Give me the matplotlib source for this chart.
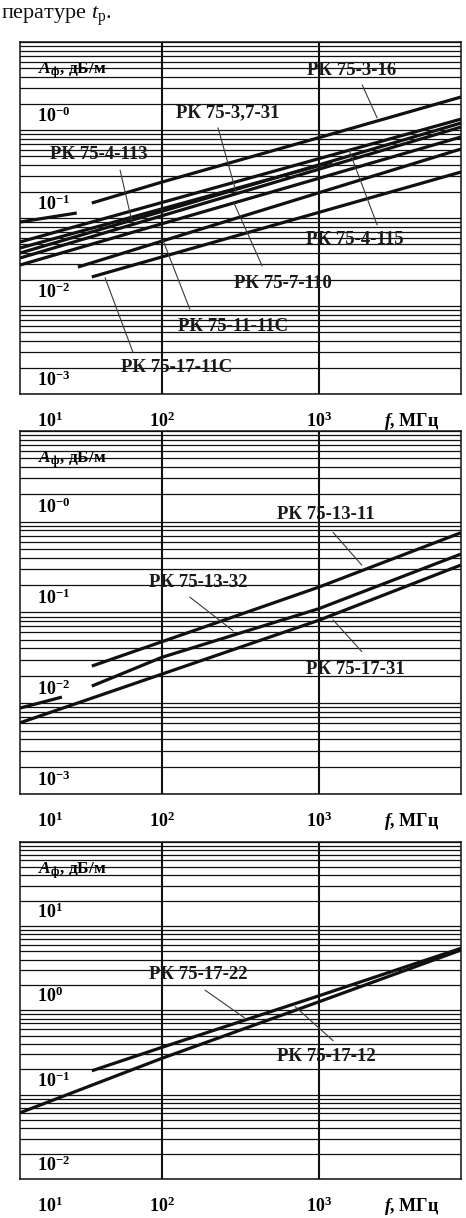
import numpy as np
import matplotlib.pyplot as plt
from matplotlib.ticker import LogLocator, NullFormatter

plt.rcParams['font.family'] = ['Liberation Serif', 'DejaVu Serif']
plt.rcParams['mathtext.fontset'] = 'custom'
plt.rcParams['mathtext.rm'] = 'Liberation Serif'
plt.rcParams['mathtext.it'] = 'Liberation Serif:italic'
plt.rcParams['mathtext.bf'] = 'Liberation Serif:bold'
plt.rcParams['mathtext.bfit'] = 'Liberation Serif:italic:bold'

# ---- data: f [MHz], A [dB/m] ----
nan = np.nan

# panel 1
f_3_16 = [12.5, 28.7, nan, 35.8, 100, 1000, 8000]
a_3_16 = [0.090, 0.114, nan, 0.148, 0.256, 0.82, 2.37]
f_4_115 = [12.5, 100, 1000, 8000]
a_4_115 = [0.0534, 0.150, 0.473, 1.33]
f_3_7_31 = [12.5, 100, 1000, 1210]
a_3_7_31 = [0.0456, 0.127, 0.394, 0.433]
f_4_113 = [12.5, 100, 1000, 8000]
a_4_113 = [0.040, 0.119, 0.402, 1.20]
f_extra = [12.5, 100, 1000, 8000]
a_extra = [0.0351, 0.106, 0.359, 1.08]
f_7_110 = [12.5, 100, 1000, 8000]
a_7_110 = [0.0292, 0.086, 0.283, 0.833]
f_11_11c = [29.2, 100, 1000, 8000]
a_11_11c = [0.0277, 0.0546, 0.194, 0.608]
f_17_11c = [35.8, 100, 1000, 8000]
a_17_11c = [0.0214, 0.0361, 0.116, 0.333]

# panel 2
f_13_11 = [35.8, 100, 1000, 8000]
a_13_11 = [0.0256, 0.0475, 0.19, 0.753]
f_13_32 = [12.5, 23.1, nan, 35.8, 100, 1000, 8000]
a_13_32 = [0.00883, 0.01167, nan, 0.01542, 0.032, 0.11, 0.4385]
f_17_31 = [12.5, 100, 1000, 8000]
a_17_31 = [0.00608, 0.0209, 0.082, 0.332]

# panel 3
f_17_22 = [35.8, 100, 1000, 8000]
a_17_22 = [0.192, 0.364, 1.49, 5.44]
f_17_12 = [12.5, 100, 1000, 8000]
a_17_12 = [0.061, 0.27, 1.265, 5.19]

ylab_12 = [r'$\mathbf{10^{-0}}$', r'$\mathbf{10^{-1}}$', r'$\mathbf{10^{-2}}$', r'$\mathbf{10^{-3}}$']
ylab_3 = [r'$\mathbf{10^{1}}$', r'$\mathbf{10^{0}}$', r'$\mathbf{10^{-1}}$', r'$\mathbf{10^{-2}}$']
xlab = [r'$\mathbf{10^{1}}$', r'$\mathbf{10^{2}}$', r'$\mathbf{10^{3}}$']

W, H = 466, 1218
fig = plt.figure(figsize=(W / 100, H / 100), dpi=100)


def make_panel(top, bottom, ylo, yhi):
    ax = fig.add_axes([20 / W, 1 - bottom / H, 441 / W, (bottom - top) / H])
    ax.set_xscale('log')
    ax.set_yscale('log')
    ax.set_xlim(12.5, 8000)
    ax.set_ylim(ylo, yhi)
    ax.set_xticks([100, 1000])
    ax.xaxis.set_minor_locator(LogLocator(subs=[]))
    ax.yaxis.set_major_locator(LogLocator(base=10))
    ax.yaxis.set_minor_locator(LogLocator(base=10, subs=range(2, 10)))
    ax.xaxis.set_major_formatter(NullFormatter())
    ax.xaxis.set_minor_formatter(NullFormatter())
    ax.yaxis.set_major_formatter(NullFormatter())
    ax.yaxis.set_minor_formatter(NullFormatter())
    ax.tick_params(which='both', length=0)
    ax.grid(which='both', axis='y', color='#111111', lw=0.9)
    ax.grid(which='major', axis='x', color='#111111', lw=1.5)
    for s in ax.spines.values():
        s.set_linewidth(1.1)
        s.set_color('#111111')
    ax.set_axisbelow(True)
    return ax


def decorate(ax, ylabels, ydecades, notes):
    # y decade labels just above their grid line
    for lab, d in zip(ylabels, ydecades):
        ax.annotate(lab, xy=(0.038, d), xycoords=('axes fraction', 'data'),
                    xytext=(0, 3), textcoords='offset points',
                    ha='left', va='bottom', fontsize=13)
    # axis title
    ax.annotate(r'$\mathbfit{A}_{\mathbf{ф}}$, дБ/м', xy=(0.041, 1), xycoords='axes fraction',
                xytext=(0, -21), textcoords='offset points',
                ha='left', va='center', fontsize=12.5, fontweight='bold')
    # frequency labels under the panel
    ax.annotate(xlab[0], xy=(0.038, 0), xycoords='axes fraction', xytext=(0, -19.5),
                textcoords='offset points', ha='left', va='center', fontsize=13)
    for lab, f in zip(xlab[1:], [100, 1000]):
        ax.annotate(lab, xy=(f, 0), xycoords=('data', 'axes fraction'), xytext=(0, -19.5),
                    textcoords='offset points', ha='center', va='center', fontsize=13)
    ax.annotate(r'$\mathbfit{f}$, МГц', xy=(0.889, 0), xycoords='axes fraction',
                xytext=(0, -19.5), textcoords='offset points',
                ha='center', va='center', fontsize=13, fontweight='bold')
    # curve names with leaders
    for name, txy, p0, p1 in notes:
        ax.text(txy[0], txy[1], name, transform=ax.transAxes, ha='center', va='center',
                fontsize=13.5, fontweight='bold', color='#1a1a1a')
        ax.annotate('', xy=p1, xycoords='axes fraction', xytext=p0,
                    arrowprops=dict(arrowstyle='-', lw=0.8, color='#3a3a3a',
                                    shrinkA=0, shrinkB=0))


line_kw = dict(color='#111111', lw=2.3, solid_capstyle='butt')

# ---- panel 1 ----
ax1 = make_panel(42, 394, 1e-3, 1e1)
for f, a in [(f_3_16, a_3_16), (f_4_115, a_4_115), (f_3_7_31, a_3_7_31), (f_4_113, a_4_113),
             (f_extra, a_extra), (f_7_110, a_7_110), (f_11_11c, a_11_11c), (f_17_11c, a_17_11c)]:
    ax1.plot(f, a, **line_kw)
notes1 = [
    ('РК 75-3-16', (0.753, 0.918), (0.776, 0.878), (0.810, 0.784)),
    ('РК 75-3,7-31', (0.472, 0.798), (0.449, 0.756), (0.490, 0.574)),
    ('РК 75-4-113', (0.179, 0.679), (0.227, 0.636), (0.254, 0.489)),
    ('РК 75-4-115', (0.760, 0.4375), (0.810, 0.480), (0.746, 0.693)),
    ('РК 75-7-110', (0.596, 0.315), (0.549, 0.364), (0.485, 0.543)),
    ('РК 75-11-11С', (0.483, 0.193), (0.385, 0.241), (0.324, 0.4375)),
    ('РК 75-17-11С', (0.356, 0.074), (0.256, 0.119), (0.193, 0.330)),
]
decorate(ax1, ylab_12, [1e0, 1e-1, 1e-2, 1e-3], notes1)

# ---- panel 2 ----
ax2 = make_panel(430.7, 794, 1e-3, 1e1)
for f, a in [(f_13_11, a_13_11), (f_13_32, a_13_32), (f_17_31, a_17_31)]:
    ax2.plot(f, a, **line_kw)
notes2 = [
    ('РК 75-13-11', (0.694, 0.768), (0.710, 0.720), (0.775, 0.630)),
    ('РК 75-13-32', (0.404, 0.5835), (0.385, 0.542), (0.483, 0.4495)),
    ('РК 75-17-31', (0.760, 0.344), (0.775, 0.392), (0.710, 0.479)),
]
decorate(ax2, ylab_12, [1e0, 1e-1, 1e-2, 1e-3], notes2)

# ---- panel 3 ----
ax3 = make_panel(841.7, 1179, 1e-2, 1e2)
for f, a in [(f_17_22, a_17_22), (f_17_12, a_17_12)]:
    ax3.plot(f, a, **line_kw)
notes3 = [
    ('РК 75-17-22', (0.404, 0.605), (0.4195, 0.560), (0.510, 0.477)),
    ('РК 75-17-12', (0.694, 0.363), (0.710, 0.410), (0.624, 0.511)),
]
decorate(ax3, ylab_3, [1e1, 1e0, 1e-1, 1e-2], notes3)

# running text fragment above the chart
fig.text(1 / W, 1 - 19 / H, r'пературе $\mathit{t}_{\mathrm{р}}$.', fontsize=16,
         ha='left', va='baseline', color='#111111')

fig.savefig('out.png', dpi=100)
